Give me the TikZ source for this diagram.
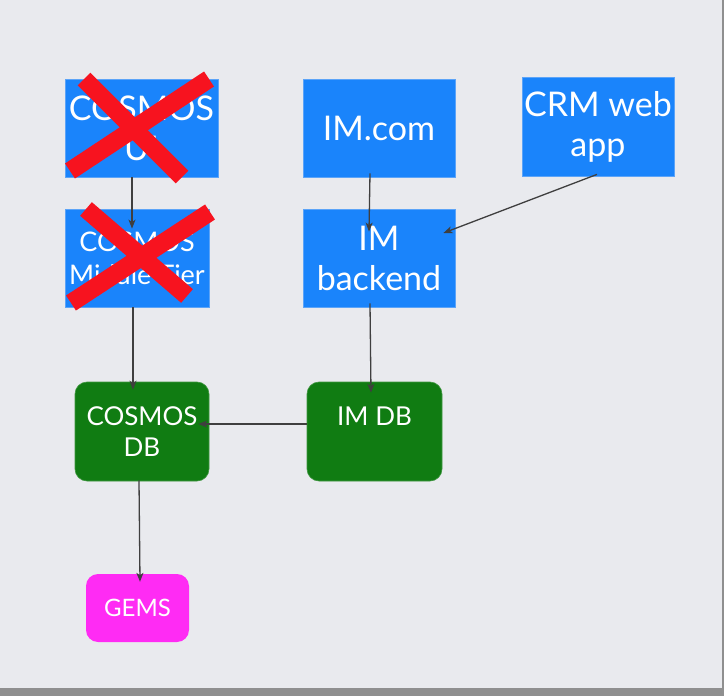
\documentclass[tikz,border=0pt]{standalone}
\usepackage{fontspec}
\setmainfont{Lato}
\usetikzlibrary{arrows.meta,calc}
\definecolor{bgc}{HTML}{E9EAEE}
\definecolor{barc}{HTML}{8F8F8F}
\definecolor{boxblue}{HTML}{1A84FB}
\definecolor{boxblueedge}{HTML}{5CA4F8}
\definecolor{boxgreen}{HTML}{107C12}
\definecolor{boxpink}{HTML}{FF2BF4}
\definecolor{crossred}{HTML}{F7131F}
\definecolor{arrowc}{HTML}{3F3F3F}
\begin{document}
\begin{tikzpicture}[x=1pt,y=-1pt,
  bluebox/.style={rectangle,fill=boxblue,draw=boxblueedge,line width=0.8pt,text=white,align=center,inner sep=0pt},
  bigtext/.style={font=\fontsize{34}{40}\selectfont},
  midtext/.style={font=\fontsize{27}{33}\selectfont},
  greenbox/.style={rectangle,rounded corners=12pt,fill=boxgreen,draw=boxgreen!80!white,line width=0.6pt,text=white,align=center,inner sep=0pt,font=\fontsize{26}{31}\selectfont},
  pinkbox/.style={rectangle,rounded corners=12pt,fill=boxpink,text=white,align=center,inner sep=0pt,font=\fontsize{24}{29}\selectfont},
  conn/.style={draw=arrowc,line width=1.3pt,-{Stealth[length=9pt,width=7pt,inset=2.5pt]}},
  xstroke/.style={draw=crossred,line width=18pt,line cap=butt}]
\useasboundingbox (0,0) rectangle (724,696);
\fill[bgc] (0,0) rectangle (724,696);
\fill[barc] (0,688) rectangle (724,696);
\fill[barc] (722,0) rectangle (724,696);

% blue boxes
\node[bluebox,bigtext,minimum width=153pt,minimum height=98pt] (ui) at (141.5,128) {COSMOS\\UI};
\node[bluebox,midtext,minimum width=144pt,minimum height=98pt] (mt) at (137,258) {COSMOS\\Middle Tier};
\node[bluebox,bigtext,minimum width=152pt,minimum height=98pt] (imcom) at (379,128) {IM.com};
\node[bluebox,bigtext,minimum width=152pt,minimum height=99pt] (crm) at (598,126.5) {CRM web\\app};
\node[bluebox,bigtext,minimum width=152pt,minimum height=98pt] (imb) at (379,258) {IM\\backend};

% green and pink boxes
\node[greenbox,minimum width=134pt,minimum height=99pt] (cdb) at (142,431.5) {COSMOS\\DB};
\node[greenbox,minimum width=135pt,minimum height=99pt] (imdb) at (374.5,431.5) {IM DB\\\phantom{DB}};
\node[pinkbox,minimum width=103pt,minimum height=68pt] (gems) at (137.5,608) {GEMS};

% red crosses
\draw[xstroke] (84,79) -- (182,177);
\draw[xstroke] (209,79) -- (70,171);
\draw[xstroke] (86,209) -- (187,296);
\draw[xstroke] (210,212) -- (71,303);

% connectors
\draw[conn] ($(ui.south)+(-9.5,0)$) -- ($(mt.north)+(-5,20)$);
\draw[conn] ($(imcom.south)+(-9,-4)$) -- ($(imb.north)+(-10,23)$);
\draw[conn] ($(crm.south)+(-1,-2)$) -- ($(imb.east)+(-12,-25)$);
\draw[conn] ($(mt.south)+(-4,0)$) -- ($(cdb.north)+(-9,8)$);
\draw[conn] ($(imb.south)+(-9,-4)$) -- ($(imdb.north)+(-3.5,11)$);
\draw[conn] ($(imdb.west)+(0,-7.5)$) -- ($(cdb.east)+(-11,-7.5)$);
\draw[conn] ($(cdb.south)+(-3,-1)$) -- ($(gems.north)+(2.5,8)$);
\end{tikzpicture}
\end{document}
